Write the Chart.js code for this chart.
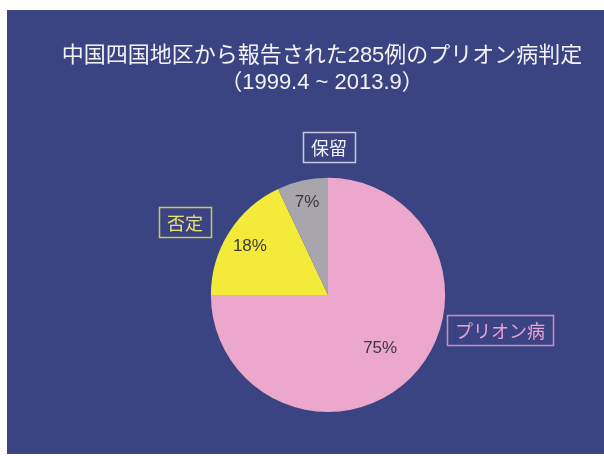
<!DOCTYPE html>
<html>
<head>
<meta charset="utf-8">
<script src="https://cdn.jsdelivr.net/npm/chart.js@4/dist/chart.umd.min.js"></script>
<style>
  html, body { margin: 0; padding: 0; background: #ffffff; }
  #wrap { width: 604px; height: 456px; }
</style>
</head>
<body>
<div id="wrap"><canvas id="c" width="604" height="456"></canvas></div>
<script>
// ---- Data ----
const categories = ['プリオン病', '否定', '保留'];
const percentages = [75, 18, 7];
const titleLines = ['中国四国地区から報告された285例のプリオン病判定', '（1999.4 ~ 2013.9）'];

// ---- Styles ----
const sliceColors = ['#eba7cc', '#f3ea3a', '#a9a5ac'];
const categoryTextColors = ['#eaa3d3', '#e9e16e', '#f2f2f6'];
const categoryBorderColors = ['#c98dbf', '#cfc75e', '#c9c9dc'];
const backgroundBlue = '#3b4483';

const backgroundPlugin = {
  id: 'slideBackground',
  afterLayout(chart) {
    // nudge the title block slightly left to match the slide layout
    const t = chart.titleBlock;
    if (t) { t.left -= 6; t.right -= 6; }
  },
  beforeDraw(chart) {
    const ctx = chart.ctx;
    ctx.save();
    ctx.fillStyle = '#ffffff';
    ctx.fillRect(0, 0, chart.width, chart.height);
    ctx.fillStyle = backgroundBlue;
    ctx.fillRect(7, 10, chart.width - 7, chart.height - 12);
    ctx.restore();
  }
};

const sliceLabelPlugin = {
  id: 'sliceLabels',
  afterDatasetsDraw(chart, args, opts) {
    const ctx = chart.ctx;
    const meta = chart.getDatasetMeta(0);
    const ds = chart.data.datasets[0];
    meta.data.forEach((arc, i) => {
      const p = arc.getProps(['x', 'y', 'startAngle', 'endAngle', 'outerRadius'], true);
      const mid = (p.startAngle + p.endAngle) / 2;
      // percentage label inside the slice
      const f = opts.valueRadius[i];
      const vx = p.x + Math.cos(mid) * p.outerRadius * f;
      const vy = p.y + Math.sin(mid) * p.outerRadius * f;
      ctx.save();
      ctx.font = "17px 'Liberation Sans', Arial, sans-serif";
      ctx.fillStyle = '#3b383f';
      ctx.textAlign = 'center';
      ctx.textBaseline = 'middle';
      ctx.fillText(ds.data[i] + '%', vx, vy + 1);
      ctx.restore();

      // category callout box outside the pie
      const a = (opts.calloutAngle[i] - 90) * Math.PI / 180;
      const rr = p.outerRadius * opts.calloutRadius[i];
      const cx = p.x + Math.cos(a) * rr;
      const cy = p.y + Math.sin(a) * rr;
      ctx.save();
      ctx.font = "18px 'Noto Sans CJK JP', sans-serif";
      const tw = ctx.measureText(chart.data.labels[i]).width;
      const bw = tw + 16, bh = 30;
      ctx.strokeStyle = categoryBorderColors[i];
      ctx.lineWidth = 1.5;
      ctx.strokeRect(Math.round(cx - bw / 2) + 0.5, Math.round(cy - bh / 2) + 0.5, Math.round(bw), bh);
      ctx.fillStyle = categoryTextColors[i];
      ctx.textAlign = 'center';
      ctx.textBaseline = 'middle';
      ctx.fillText(chart.data.labels[i], cx, cy + 1);
      ctx.restore();
    });
  }
};

new Chart(document.getElementById('c'), {
  type: 'pie',
  data: {
    labels: categories,
    datasets: [{
      data: percentages,
      backgroundColor: sliceColors,
      borderWidth: 0
    }]
  },
  options: {
    responsive: false,
    animation: false,
    layout: { padding: { left: 52, right: 0, top: 0, bottom: 44 } },
    plugins: {
      legend: { display: false },
      tooltip: { enabled: false },
      title: {
        display: true,
        text: titleLines,
        color: '#f3f3f6',
        font: { size: 22, weight: 'normal', family: "'Liberation Sans', 'Noto Sans CJK JP', sans-serif", lineHeight: 1.2 },
        padding: { top: 43, bottom: 82 }
      },
      sliceLabels: {
        valueRadius: [0.63, 0.79, 0.82],
        calloutAngle: [101.5, 297, 0.4],
        calloutRadius: [1.5, 1.37, 1.26]
      }
    }
  },
  plugins: [backgroundPlugin, sliceLabelPlugin]
});
</script>
</body>
</html>
